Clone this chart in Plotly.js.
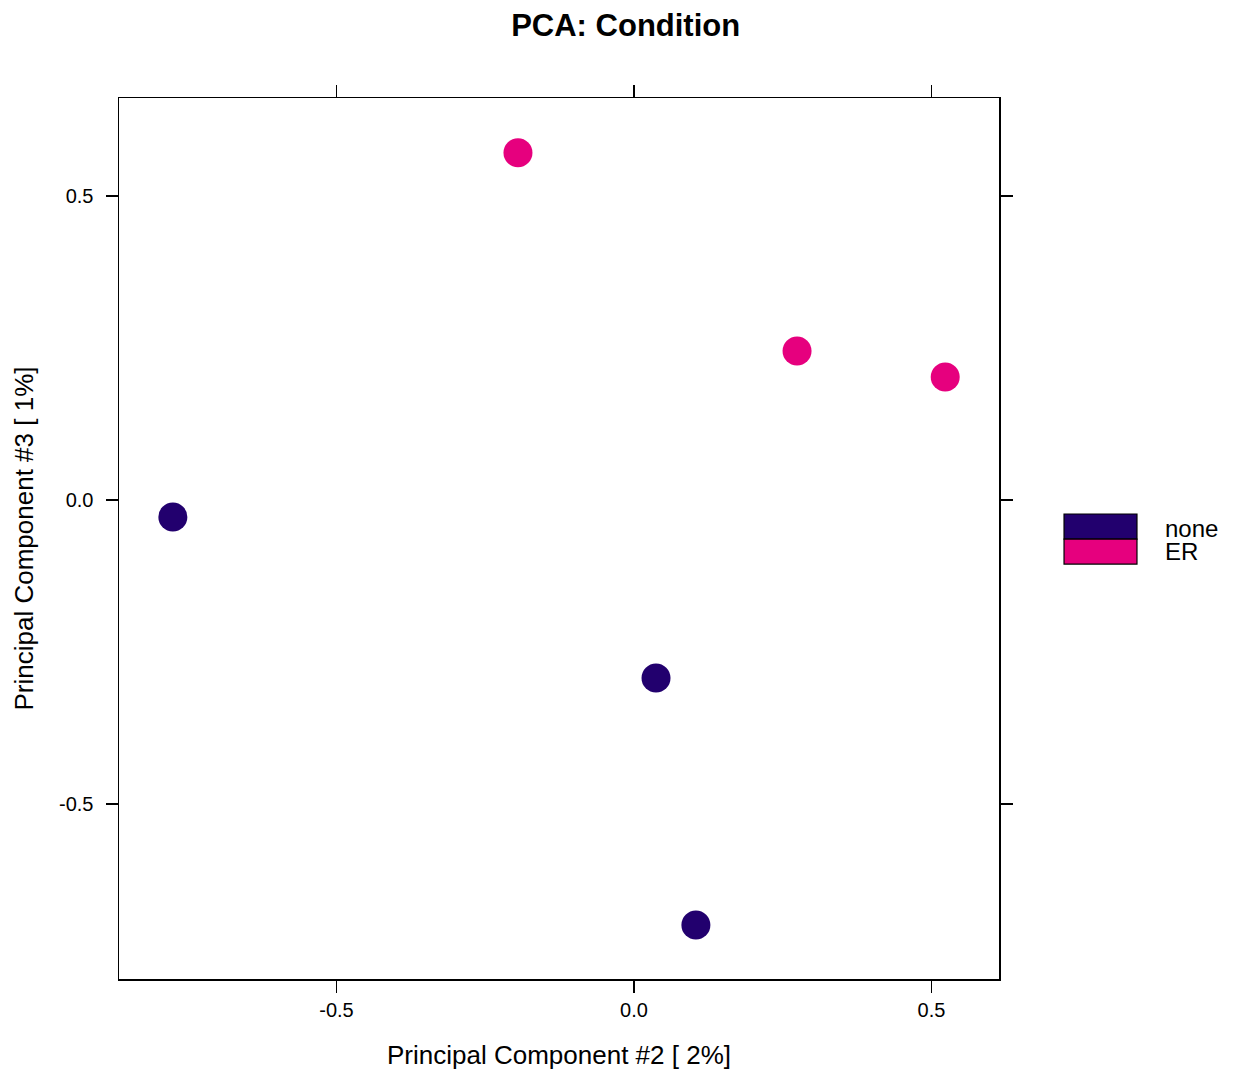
<!DOCTYPE html>
<html>
<head>
<meta charset="utf-8">
<script src="https://cdn.plot.ly/plotly-3.0.1.min.js"></script>
<style>html,body{margin:0;padding:0;background:#fff;}</style>
</head>
<body>
<div id="chart" style="width:1239px;height:1076px;"></div>
<script>
// Data
var categories = ["none", "ER"];
var colors = ["#22006E", "#E6007E"];
var pc2_none = [-0.775, 0.037, 0.104];
var pc3_none = [-0.028, -0.293, -0.699];
var pc2_ER = [-0.195, 0.274, 0.523];
var pc3_ER = [0.571, 0.245, 0.202];
var tickVals = [-0.5, 0.0, 0.5];
var tickText = ["-0.5", "0.0", "0.5"];

var xs = [pc2_none, pc2_ER];
var ys = [pc3_none, pc3_ER];

var traces = categories.map(function (c, i) {
  return {
    type: "scatter", mode: "markers", name: c,
    x: xs[i], y: ys[i],
    marker: { color: colors[i], size: 29, line: { width: 0 } },
    showlegend: false
  };
});

// Legend drawn as boxes (lattice style)
var legShapes = [], legAnnots = [];
var boxX0 = 1.0739, boxX1 = 1.1568, legTop = 0.5278, legH = 0.0284;
categories.forEach(function (c, i) {
  var y1 = legTop - i * legH, y0 = y1 - legH;
  legShapes.push({ type: "rect", xref: "paper", yref: "paper", x0: boxX0, x1: boxX1, y0: y0, y1: y1,
    fillcolor: colors[i], line: { color: "#000", width: 1.2 } });
  legAnnots.push({ xref: "paper", yref: "paper", x: 1.1875, y: (y0 + y1) / 2 + (i === 0 ? -0.002 : 0), text: c,
    showarrow: false, xanchor: "left", yanchor: "middle", borderpad: 0,
    font: { family: "Liberation Sans, Arial, sans-serif", size: 24, color: "#000" } });
});

var axisCommon = {
  showgrid: false, zeroline: false, showline: true, linecolor: "#000", linewidth: 1.5,
  mirror: "ticks", ticks: "outside", ticklen: 12, tickwidth: 1.5, tickcolor: "#000",
  tickmode: "array", tickvals: tickVals, ticktext: tickText,
  tickfont: { family: "Liberation Sans, Arial, sans-serif", size: 20, color: "#000" }
};

var layout = {
  width: 1239, height: 1076,
  margin: { l: 119, r: 240, t: 98, b: 97 },
  paper_bgcolor: "#fff", plot_bgcolor: "#fff",
  title: { text: "<b>PCA: Condition</b>", x: 0.505, xanchor: "center", y: 0.977, yanchor: "middle",
    font: { family: "Liberation Sans, Arial, sans-serif", size: 31, color: "#000" } },
  xaxis: Object.assign({}, axisCommon, {
    range: [-0.8655, 0.6134],
    title: { text: "Principal Component #2 [ 2%]", standoff: 26,
      font: { family: "Liberation Sans, Arial, sans-serif", size: 26, color: "#000" } }
  }),
  yaxis: Object.assign({}, axisCommon, {
    range: [-0.788, 0.661],
    ticklabelstandoff: 8,
    title: { text: "Principal Component #3 [ 1%]", standoff: 18,
      font: { family: "Liberation Sans, Arial, sans-serif", size: 26, color: "#000" } }
  }),
  shapes: legShapes,
  annotations: legAnnots,
  showlegend: false
};

Plotly.newPlot("chart", traces, layout, { displayModeBar: false, staticPlot: true });
</script>
</body>
</html>
